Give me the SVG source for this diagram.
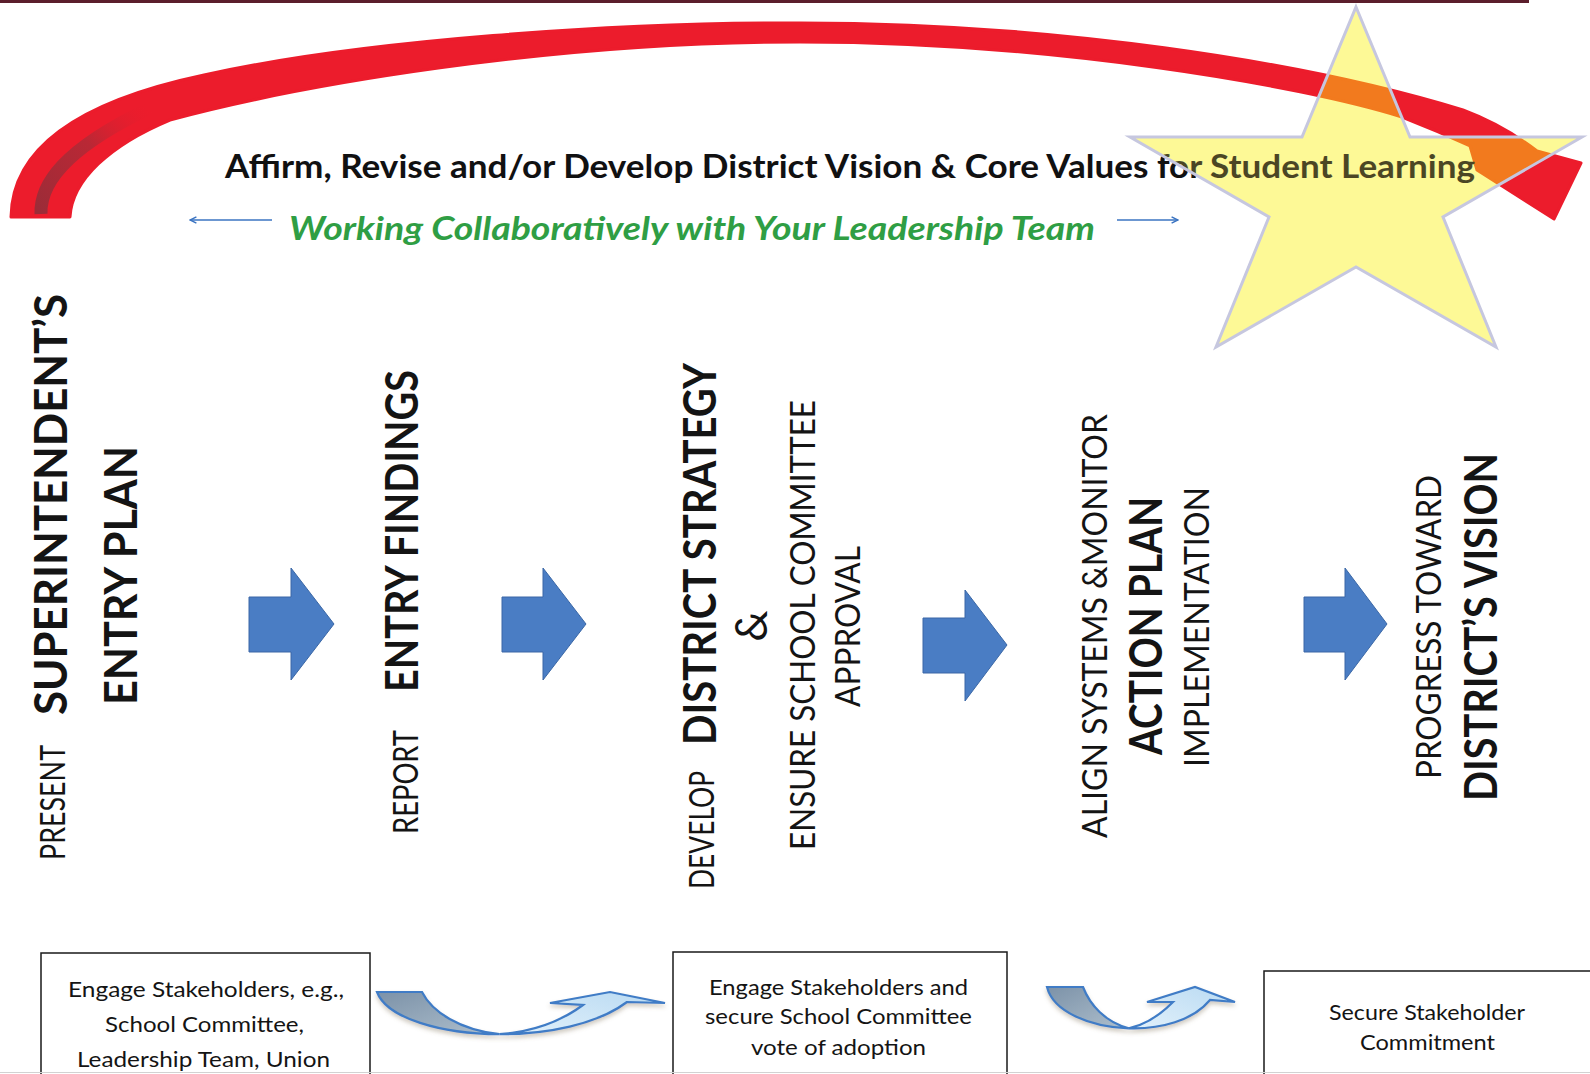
<svg xmlns="http://www.w3.org/2000/svg" width="1590" height="1074" viewBox="0 0 1590 1074">
  <defs>
    <style>
      .t{font-family:Lato,"Open Sans","Liberation Sans",sans-serif;fill:#141414}
      .vr{font-size:35px;font-weight:400}
      .vb{font-size:46px;font-weight:700}
      .box{fill:#fff;stroke:#1a1a1a;stroke-width:1.5}
      .bt{font-size:21.5px;font-weight:400}
      .blk{fill:#4a7dc4;stroke:#3a67a6;stroke-width:1}
      .uline{stroke:#3f7cc6;stroke-width:2.2;stroke-linejoin:miter}
      .thin{stroke:#3b74c2;stroke-width:1.6;fill:none}
    </style>
    <!-- sweeping arc arrow over the whole process -->
    <path id="band" d="M 11 217 C 12 140, 95 98, 204 75 C 360 40, 620 22, 800 23 C 1050 23, 1300 60, 1463 110 C 1495 122, 1520 138, 1537 151 L 1581 163 L 1554 219 L 1477 170 L 1470 146 C 1440 132, 1420 124, 1402 117 C 1300 85, 1050 42, 800 42 C 550 42, 300 85, 170 120 C 110 145, 72 180, 70 217 Z"/>
    <polygon id="starShape" points="1356,7 1410,137 1582,137 1443,217 1496,347 1356,267 1216,347 1269,217 1130,137 1302,137"/>
    <clipPath id="starClip"><use href="#starShape"/></clipPath>
    <linearGradient id="tailDark" gradientUnits="userSpaceOnUse" x1="41" y1="214" x2="150" y2="108">
      <stop offset="0" stop-color="#9b2c38" stop-opacity="1"/>
      <stop offset="0.55" stop-color="#a82c38" stop-opacity="0.75"/>
      <stop offset="1" stop-color="#ec1c2c" stop-opacity="0"/>
    </linearGradient>
    <linearGradient id="titleInk" gradientUnits="userSpaceOnUse" x1="1175" y1="172" x2="1183" y2="158">
      <stop offset="0" stop-color="#111"/>
      <stop offset="0.5" stop-color="#111"/>
      <stop offset="0.5" stop-color="#4b4624"/>
      <stop offset="1" stop-color="#4b4624"/>
    </linearGradient>
    <linearGradient id="backShade" x1="0" y1="0" x2="1" y2="1">
      <stop offset="0" stop-color="#7c92a8"/>
      <stop offset="1" stop-color="#aebfcd"/>
    </linearGradient>
    <linearGradient id="frontShade" x1="0" y1="1" x2="1" y2="0">
      <stop offset="0" stop-color="#e2f1fb"/>
      <stop offset="1" stop-color="#b9daf2"/>
    </linearGradient>
    <filter id="lift" x="-10%" y="-30%" width="120%" height="180%">
      <feDropShadow dx="0" dy="3" stdDeviation="2" flood-color="#7a6a50" flood-opacity="0.35"/>
    </filter>
    <marker id="tip" viewBox="0 0 10 10" refX="9" refY="5" markerWidth="5" markerHeight="5" orient="auto">
      <path d="M1 1 L9 5 L1 9" fill="none" stroke="#3b74c2" stroke-width="1.8"/>
    </marker>
  </defs>

  <rect width="1590" height="1074" fill="#fff"/>
  <rect x="0" y="0" width="1529" height="3" fill="#5b1e2c"/>

  <!-- arc, star and headline -->
  <g id="vision-arc">
    <use href="#band" fill="#ec1c2c" stroke="#ec1c2c" stroke-width="3" stroke-linejoin="round"/>
    <path d="M 41 214 C 40 185, 62 150, 150 108" fill="none" stroke="url(#tailDark)" stroke-width="13"/>
    <use href="#starShape" fill="#fdf996"/>
    <use href="#band" clip-path="url(#starClip)" fill="#f27a1e" stroke="#f27a1e" stroke-width="3" stroke-linejoin="round"/>
  </g>
  <g id="headline">
    <text class="t" x="225" y="178" font-size="31.5" font-weight="700" style="fill:url(#titleInk)" textLength="1250" lengthAdjust="spacingAndGlyphs">Affirm, Revise and/or Develop District Vision &amp; Core Values for Student Learning</text>
  </g>
  <g id="star-outline">
    <use href="#starShape" fill="none" stroke="#c6c7df" stroke-width="3" stroke-linejoin="miter"/>
  </g>
  <g id="subtitle">
    <text class="t" x="289" y="240" font-size="31.5" font-weight="700" font-style="italic" style="fill:#2f9e44" textLength="806" lengthAdjust="spacingAndGlyphs">Working Collaboratively with Your Leadership Team</text>
  </g>

  <!-- process steps, read bottom to top -->
  <g id="step-entry-plan">
    <text class="t vr" transform="translate(65,860) rotate(-90)" textLength="115" lengthAdjust="spacingAndGlyphs">PRESENT</text>
    <text class="t vb" transform="translate(67,715) rotate(-90)" font-size="48" textLength="421" lengthAdjust="spacingAndGlyphs">SUPERINTENDENT’S</text>
    <text class="t vb" transform="translate(137,705) rotate(-90)" font-size="48" textLength="259" lengthAdjust="spacingAndGlyphs">ENTRY PLAN</text>
  </g>
  <g id="step-findings">
    <text class="t vr" transform="translate(418,834) rotate(-90)" font-size="33" textLength="104" lengthAdjust="spacingAndGlyphs">REPORT</text>
    <text class="t vb" transform="translate(418,692) rotate(-90)" font-size="44" textLength="322" lengthAdjust="spacingAndGlyphs">ENTRY FINDINGS</text>
  </g>
  <g id="step-strategy">
    <text class="t vr" transform="translate(714,889) rotate(-90)" textLength="118" lengthAdjust="spacingAndGlyphs">DEVELOP</text>
    <text class="t vb" transform="translate(716,745) rotate(-90)" font-size="45" textLength="382" lengthAdjust="spacingAndGlyphs">DISTRICT STRATEGY</text>
    <text class="t" transform="translate(767,626) rotate(-90)" font-size="44" text-anchor="middle">&amp;</text>
    <text class="t vr" transform="translate(815,850) rotate(-90)" textLength="450" lengthAdjust="spacingAndGlyphs">ENSURE SCHOOL COMMITTEE</text>
    <text class="t vr" transform="translate(860,707) rotate(-90)" textLength="161" lengthAdjust="spacingAndGlyphs">APPROVAL</text>
  </g>
  <g id="step-action-plan">
    <text class="t vr" transform="translate(1107,838) rotate(-90)" textLength="424" lengthAdjust="spacingAndGlyphs">ALIGN SYSTEMS &amp;MONITOR</text>
    <text class="t vb" transform="translate(1162,755) rotate(-90)" textLength="258" lengthAdjust="spacingAndGlyphs">ACTION PLAN</text>
    <text class="t vr" transform="translate(1209,767) rotate(-90)" textLength="280" lengthAdjust="spacingAndGlyphs">IMPLEMENTATION</text>
  </g>
  <g id="step-vision">
    <text class="t vr" transform="translate(1441,779) rotate(-90)" textLength="304" lengthAdjust="spacingAndGlyphs">PROGRESS TOWARD</text>
    <text class="t vb" transform="translate(1497,801) rotate(-90)" textLength="348" lengthAdjust="spacingAndGlyphs">DISTRICT’S VISION</text>
  </g>

  <!-- stakeholder boxes -->
  <g id="box-engage">
    <rect class="box" x="41" y="953" width="329" height="140"/>
    <text class="t bt" x="68" y="997" textLength="276" lengthAdjust="spacingAndGlyphs">Engage Stakeholders, e.g.,</text>
    <text class="t bt" x="105" y="1032" textLength="199" lengthAdjust="spacingAndGlyphs">School Committee,</text>
    <text class="t bt" x="77" y="1067" textLength="253" lengthAdjust="spacingAndGlyphs">Leadership Team, Union</text>
  </g>
  <g id="box-adoption">
    <rect class="box" x="673" y="952" width="334" height="140"/>
    <text class="t bt" x="709" y="995" textLength="259" lengthAdjust="spacingAndGlyphs">Engage Stakeholders and</text>
    <text class="t bt" x="705" y="1024" textLength="267" lengthAdjust="spacingAndGlyphs">secure School Committee</text>
    <text class="t bt" x="751" y="1055" textLength="175" lengthAdjust="spacingAndGlyphs">vote of adoption</text>
  </g>
  <g id="box-commitment">
    <rect class="box" x="1264" y="971" width="340" height="140"/>
    <text class="t bt" x="1329" y="1020" textLength="196" lengthAdjust="spacingAndGlyphs">Secure Stakeholder</text>
    <text class="t bt" x="1360" y="1050" textLength="135" lengthAdjust="spacingAndGlyphs">Commitment</text>
  </g>
  <line x1="0" y1="1072.5" x2="1590" y2="1072.5" stroke="#d2d2d2" stroke-width="1"/>

  <!-- connectors -->
  <g id="connectors">
    <line class="thin" x1="272" y1="220" x2="190" y2="220" marker-end="url(#tip)"/>
    <line class="thin" x1="1117" y1="220" x2="1178" y2="220" marker-end="url(#tip)"/>

    <polygon class="blk" points="249,597 291,597 291,568 334,624 291,680 291,652 249,652"/>
    <polygon class="blk" points="502,597 543,597 543,568 586,624 543,680 543,652 502,652"/>
    <polygon class="blk" points="923,618 965,618 965,590 1007,645 965,701 965,673 923,673"/>
    <polygon class="blk" points="1304,597 1345,597 1345,568 1387,624 1345,680 1345,652 1304,652"/>

    <g filter="url(#lift)">
      <path class="uline" fill="url(#frontShade)" d="M 499.4 1034.2 C 546.9 1034.4, 596.9 1024.5, 627 1002 L 665 1003 L 610 992 L 550 1003 L 583 1005 C 560 1022, 530 1032, 499.4 1034.2 Z"/>
      <path class="uline" fill="url(#backShade)" d="M 377 992 L 422 992 C 432 1012, 460 1030, 499.4 1034.2 C 441.3 1033.9, 386.9 1018.4, 377 992 Z"/>
    </g>
    <g filter="url(#lift)">
      <path class="uline" fill="url(#frontShade)" d="M 1128.8 1028.3 C 1160.4 1029.3, 1192.9 1020.7, 1210 1000 L 1235 1002 L 1195 987 L 1147 1002 L 1173 1002 C 1160 1015, 1145 1025, 1128.8 1028.3 Z"/>
      <path class="uline" fill="url(#backShade)" d="M 1047 987 L 1083 987 C 1090 1005, 1105 1022, 1128.8 1028.3 C 1090.3 1027.1, 1053.1 1011.8, 1047 987 Z"/>
    </g>
  </g>
</svg>
